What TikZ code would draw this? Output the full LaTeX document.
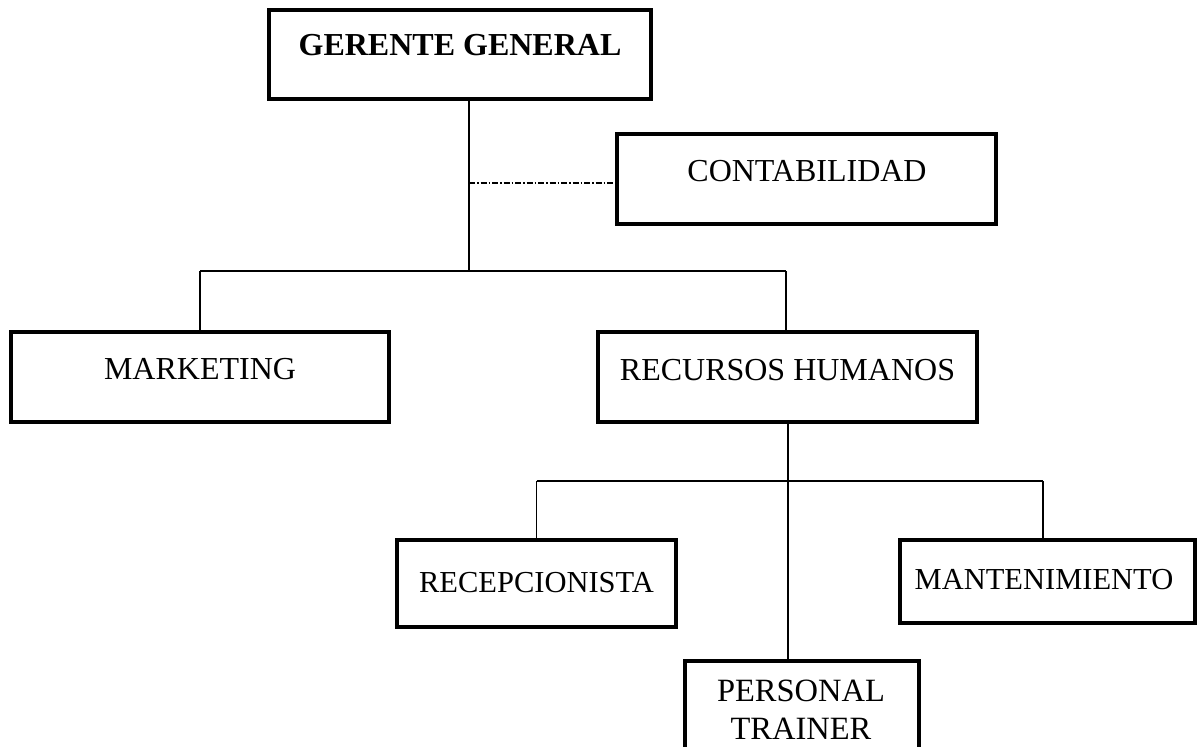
\documentclass[tikz,border=0pt]{standalone}
\usepackage{fontspec}
\setmainfont{Liberation Serif}
\begin{document}
\begin{tikzpicture}[x=1pt,y=-1pt,
  box/.style={draw=black,line width=3.2pt,inner sep=0pt,fill=white},
  conn/.style={draw=black,line width=1.3pt},
  big/.style={inner sep=0pt,anchor=base,font=\fontsize{32}{38}\selectfont},
  small/.style={inner sep=0pt,anchor=base,font=\fontsize{30.5}{36}\selectfont}]
\useasboundingbox[fill=white] (0,0) rectangle (1200,747);
% boxes
\node[box,minimum width=382pt,minimum height=89pt] (gg) at (460,54.5) {};
\node[box,minimum width=379pt,minimum height=90pt] (ct) at (806.5,179) {};
\node[box,minimum width=378pt,minimum height=90pt] (mk) at (200,377) {};
\node[box,minimum width=379pt,minimum height=90pt] (rh) at (787.5,377) {};
\node[box,minimum width=279pt,minimum height=87pt] (rc) at (536.5,583.5) {};
\node[box,minimum width=295pt,minimum height=83pt] (mt) at (1047.5,581.5) {};
\node[box,minimum width=234pt,minimum height=100pt] (pt) at (802,711) {};
% texts
\node[big,font=\fontsize{32}{38}\selectfont\bfseries] (ggt) at (460,55) {GERENTE GENERAL};
\node[big] (ctt) at (807,181) {CONTABILIDAD};
\node[big] (mkt) at (200,379) {MARKETING};
\node[big] (rht) at (787.5,380) {RECURSOS HUMANOS};
\node[small] (rct) at (536.5,592) {RECEPCIONISTA};
\node[small] (mtt) at (1044,589) {MANTENIMIENTO};
\node[small,font=\fontsize{32.5}{38}\selectfont] (ptt1) at (801,701) {PERSONAL};
\node[small,font=\fontsize{32.5}{38}\selectfont] (ptt2) at (801,739) {TRAINER};
% junctions
\coordinate (g0) at (469,99);
\coordinate (j1) at (469,271);
\coordinate (jd) at (469,183);
\coordinate (jl) at (200,271);
\coordinate (jr) at (786,271);
\coordinate (r0) at (788,422);
\coordinate (j2) at (788,481);
\coordinate (kl) at (536.5,481);
\coordinate (kr) at (1043,481);
% connectors
\draw[conn] (g0) -- (j1);
\draw[conn] (jl) -- (jr);
\draw[conn] (jl) -- (mk.north);
\draw[conn] (jr) -- (jr |- rh.north);
\draw[black,line width=1.1pt,dash pattern=on 6pt off 2pt on 1.5pt off 2pt] (jd) -- (jd -| ct.west);
\draw[conn] (r0) -- (r0 |- pt.north);
\draw[conn] (kl) -- (kr);
\draw[conn] (kl) -- (rc.north);
\draw[conn] (kr) -- (kr |- mt.north);
\end{tikzpicture}
\end{document}
